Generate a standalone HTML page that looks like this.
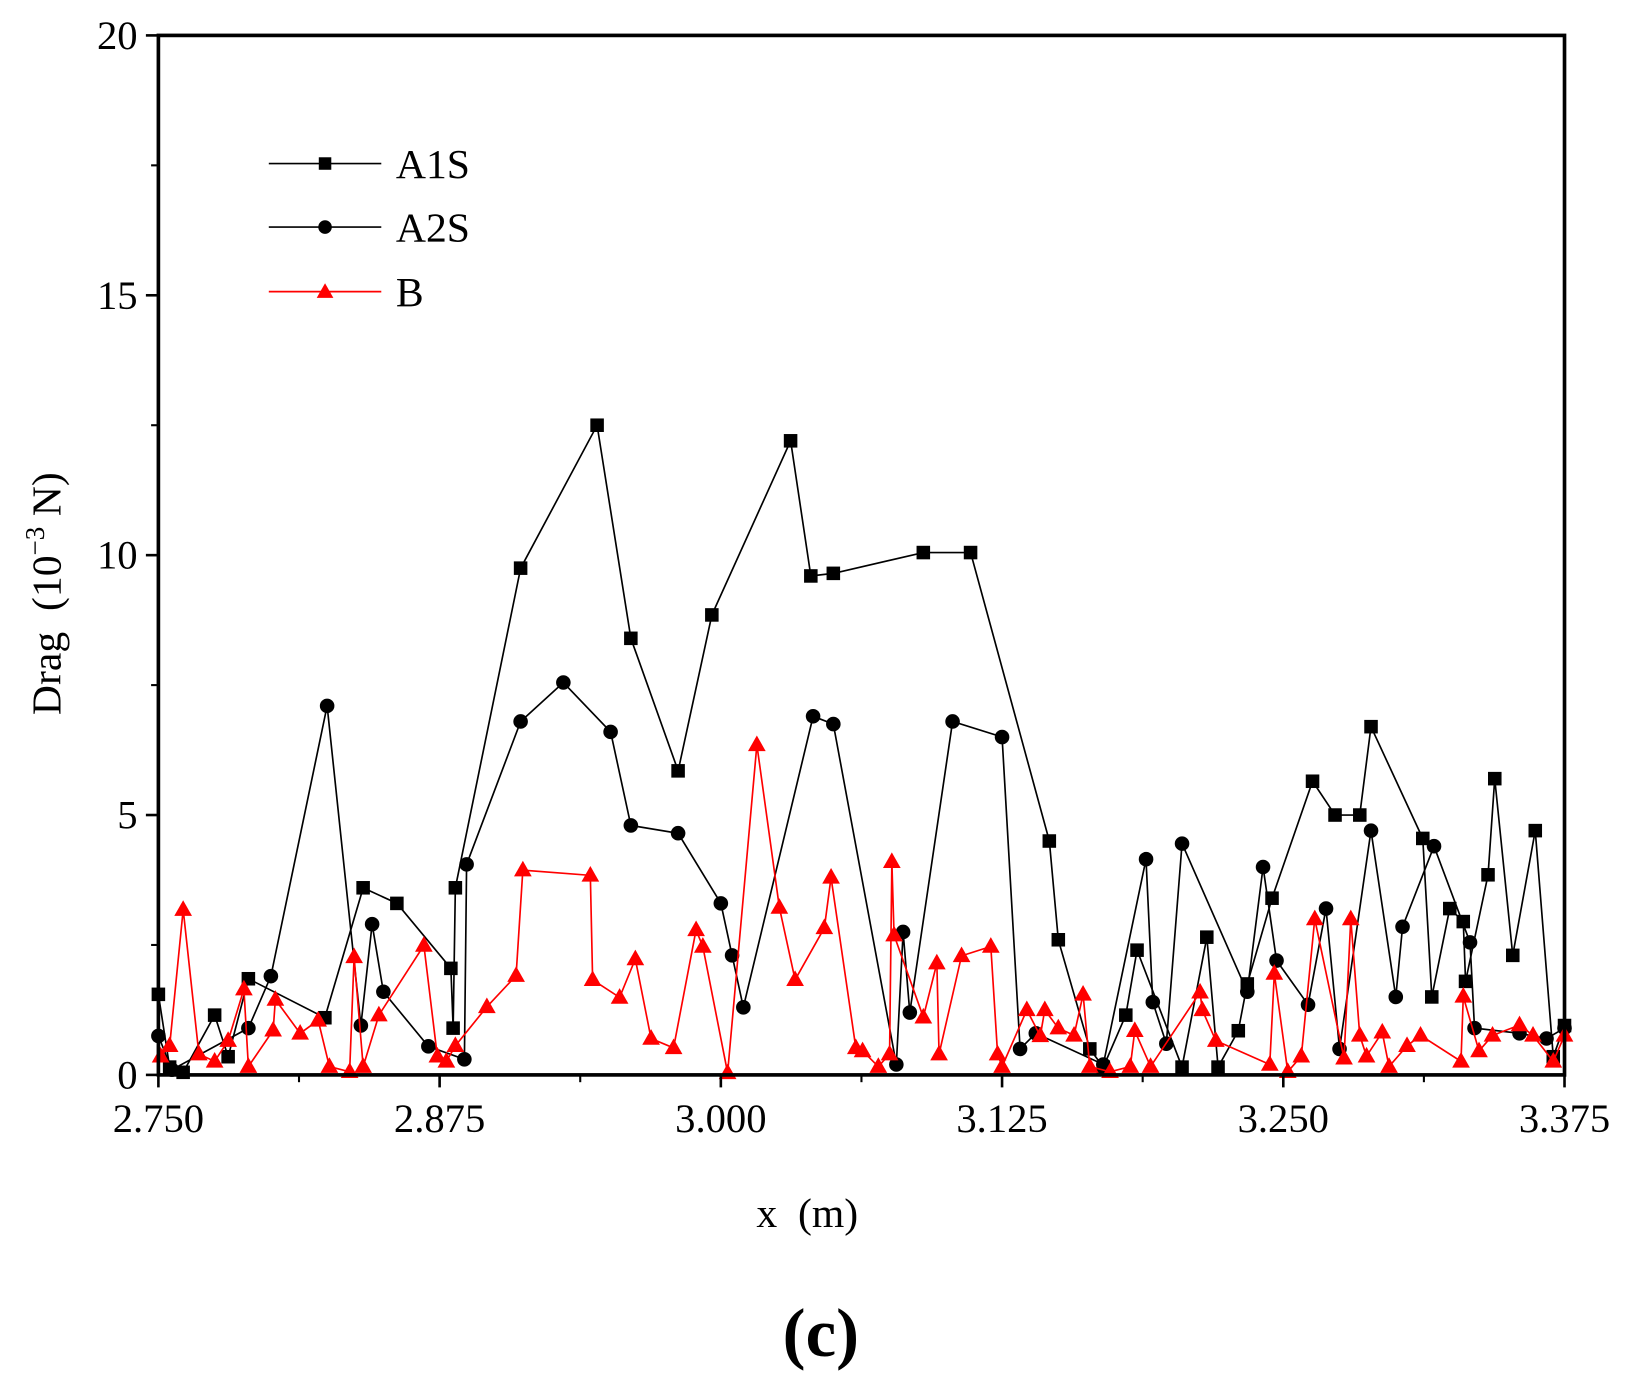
<!DOCTYPE html>
<html><head><meta charset="utf-8"><style>
html,body{margin:0;padding:0;background:#fff;}
svg{display:block;font-family:"Liberation Serif",serif;}
</style></head><body>
<svg id="chart" width="1625" height="1378" viewBox="0 0 1560 1323" xmlns="http://www.w3.org/2000/svg">
<g id="marks"></g>
<g id="axes"></g>
<g>
 <g><line x1="258" y1="157" x2="366" y2="157" stroke="#000" stroke-width="1.6"/><rect x="306" y="151" width="12" height="12" fill="#000"/><text x="380" y="171" font-size="40">A1S</text></g>
 <g><line x1="258" y1="218" x2="366" y2="218" stroke="#000" stroke-width="1.6"/><circle cx="312" cy="218" r="6.5" fill="#000"/><text x="380" y="232" font-size="40">A2S</text></g>
 <g><line x1="258" y1="280" x2="366" y2="280" stroke="#f00" stroke-width="1.6"/><polygon points="312,272 320,286 304,286" fill="#f00"/><text x="380" y="294" font-size="40">B</text></g>
</g>
<text x="775" y="1178" font-size="40" text-anchor="middle" xml:space="preserve">x  (m)</text>
<text transform="translate(58,570) rotate(-90)" font-size="40" text-anchor="middle" xml:space="preserve">Drag  (10<tspan dy="-16" font-size="26">−3</tspan><tspan dy="16"> N)</tspan></text>
<text x="788" y="1302" font-size="66" font-weight="bold" text-anchor="middle">(c)</text>
</svg>
<script>
const xTicks=["2.750","2.875","3.000","3.125","3.250","3.375"];
const yTicks=["0","5","10","15","20"];
const a1sX=[2.750,2.755,2.761,2.775,2.781,2.790,2.824,2.841,2.856,2.880,2.881,2.882,2.911,2.945,2.960,2.981,2.996,3.031,3.040,3.050,3.090,3.111,3.146,3.150,3.164,3.170,3.180,3.185,3.205,3.216,3.221,3.230,3.234,3.245,3.263,3.273,3.284,3.289,3.312,3.316,3.324,3.330,3.331,3.341,3.344,3.352,3.362,3.370,3.375];
const a1sY=[1.55,0.15,0.05,1.15,0.35,1.85,1.1,3.6,3.3,2.05,0.9,3.6,9.75,12.5,8.4,5.85,8.85,12.2,9.6,9.65,10.05,10.05,4.5,2.6,0.5,0.15,1.15,2.4,0.15,2.65,0.15,0.85,1.75,3.4,5.65,5.0,5.0,6.7,4.55,1.5,3.2,2.95,1.8,3.85,5.7,2.3,4.7,0.35,0.95];
const a2sX=[2.750,2.756,2.790,2.800,2.825,2.840,2.845,2.850,2.870,2.886,2.887,2.911,2.930,2.951,2.960,2.981,3.000,3.005,3.010,3.041,3.050,3.078,3.081,3.084,3.103,3.125,3.133,3.140,3.170,3.189,3.192,3.198,3.205,3.234,3.241,3.247,3.261,3.269,3.275,3.289,3.300,3.303,3.317,3.333,3.335,3.355,3.367,3.375];
const a2sY=[0.75,0.1,0.9,1.9,7.1,0.95,2.9,1.6,0.55,0.3,4.05,6.8,7.55,6.6,4.8,4.65,3.3,2.3,1.3,6.9,6.75,0.2,2.75,1.2,6.8,6.5,0.5,0.8,0.2,4.15,1.4,0.6,4.45,1.6,4.0,2.2,1.35,3.2,0.5,4.7,1.5,2.85,4.4,2.55,0.9,0.8,0.7,0.9];
const bX=[2.751,2.755,2.761,2.768,2.775,2.781,2.788,2.790,2.801,2.802,2.813,2.821,2.826,2.835,2.837,2.841,2.848,2.868,2.874,2.878,2.882,2.896,2.909,2.912,2.942,2.943,2.955,2.962,2.969,2.979,2.989,2.992,3.003,3.016,3.026,3.033,3.046,3.049,3.060,3.063,3.070,3.075,3.076,3.077,3.090,3.096,3.097,3.107,3.120,3.123,3.125,3.136,3.142,3.144,3.150,3.157,3.161,3.164,3.173,3.182,3.184,3.191,3.213,3.214,3.220,3.244,3.246,3.252,3.258,3.264,3.277,3.280,3.284,3.287,3.294,3.297,3.305,3.311,3.329,3.330,3.337,3.343,3.355,3.361,3.370,3.375];
const bY=[0.36,0.56,3.18,0.40,0.26,0.66,1.65,0.16,0.86,1.45,0.80,1.05,0.16,0.06,2.27,0.16,1.15,2.49,0.36,0.26,0.56,1.31,1.91,3.94,3.84,1.83,1.49,2.23,0.70,0.52,2.79,2.47,0.04,6.35,3.22,1.83,2.83,3.80,0.52,0.46,0.16,0.40,4.10,2.69,1.11,2.15,0.40,2.29,2.47,0.40,0.16,1.25,0.75,1.25,0.90,0.76,1.55,0.16,0.06,0.16,0.85,0.16,1.59,1.25,0.66,0.20,1.95,0.06,0.36,3.00,0.32,3.00,0.76,0.36,0.82,0.16,0.56,0.76,0.26,1.51,0.46,0.76,0.96,0.76,0.26,0.76];

const X0=152,X1=1502,Y0=1032,Y1=34,xmin=2.75,xmax=3.375,ymin=0,ymax=20;
const sx=v=>X0+(v-xmin)/(xmax-xmin)*(X1-X0);
const sy=v=>Y0-(v-ymin)/(ymax-ymin)*(Y0-Y1);
const NS="http://www.w3.org/2000/svg";
function mk(tag,attrs,parent){const e=document.createElementNS(NS,tag);for(const k in attrs)e.setAttribute(k,attrs[k]);parent.appendChild(e);return e;}
const marks=document.getElementById('marks'), axes=document.getElementById('axes');

function series(xs,ys,color,shape,name){
  const g=mk('g',{},marks);
  
  
  const pts=xs.map((x,i)=>sx(x).toFixed(1)+','+sy(ys[i]).toFixed(1)).join(' ');
  const pl=mk('polyline',{points:pts,fill:'none',stroke:color,'stroke-width':1.6},g);
  
  
  xs.forEach((x,i)=>{
    const cx=sx(x),cy=sy(ys[i]);let m;
    if(shape==='sq') m=mk('rect',{x:cx-6.5,y:cy-6.5,width:13,height:13,fill:color},g);
    else if(shape==='ci') m=mk('circle',{cx:cx,cy:cy,r:7,fill:color},g);
    else m=mk('polygon',{points:`${cx},${cy-9} ${cx+8.5},${cy+6} ${cx-8.5},${cy+6}`,fill:color},g);
    
    
  });
}
series(a1sX,a1sY,'#000','sq','a1s');
series(a2sX,a2sY,'#000','ci','a2s');
series(bX,bY,'#f00','tr','b');

const frame=mk('rect',{x:X0,y:Y1,width:X1-X0,height:Y0-Y1,fill:'none',stroke:'#000','stroke-width':3.5},axes);


xTicks.forEach((t,i)=>{
  const v=parseFloat(t),x=sx(v);
  mk('line',{x1:x,y1:Y0,x2:x,y2:Y0+12,stroke:'#000','stroke-width':2.5},axes);
  if(i<xTicks.length-1){const xm=sx(v+0.0625);mk('line',{x1:xm,y1:Y0,x2:xm,y2:Y0+7,stroke:'#000','stroke-width':2},axes);}
  const tx=mk('text',{x:x,y:Y0+55,'font-size':39,'text-anchor':'middle'},axes);tx.textContent=t;
  
  
});
yTicks.forEach((t,i)=>{
  const v=parseFloat(t),y=sy(v);
  mk('line',{x1:X0-12,y1:y,x2:X0,y2:y,stroke:'#000','stroke-width':2.5},axes);
  if(i<yTicks.length-1){const ym=sy(v+2.5);mk('line',{x1:X0-7,y1:ym,x2:X0,y2:ym,stroke:'#000','stroke-width':2},axes);}
  const ty=mk('text',{x:X0-20,y:y+13,'font-size':39,'text-anchor':'end'},axes);ty.textContent=t;
  
  
});
</script>
</body></html>
